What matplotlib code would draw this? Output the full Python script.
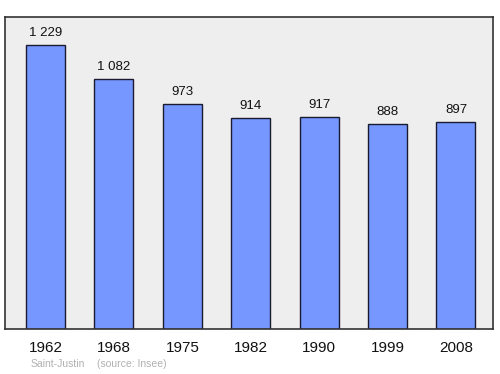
import matplotlib.pyplot as plt
import numpy as np

plt.rcParams["font.family"] = ["Liberation Sans", "DejaVu Sans"]

years = ["1962", "1968", "1975", "1982", "1990", "1999", "2008"]
population = [1229, 1082, 973, 914, 917, 888, 897]
value_labels = ["1 229", "1 082", "973", "914", "917", "888", "897"]

fig = plt.figure(figsize=(5.0, 3.74), dpi=100)
ax = fig.add_axes([5 / 500, 1 - 329 / 374, 488 / 500, 312 / 374])
ax.set_facecolor("#eeeeee")

x = np.arange(len(years))
ax.bar(x, population, width=0.57, color="#7597ff", edgecolor="#1a1a2e", linewidth=1.0, zorder=2)
for xi, val, lbl in zip(x, population, value_labels):
    ax.annotate(lbl, (xi, val), xytext=(0, 8.5), textcoords="offset points",
                ha="center", va="center", fontsize=9.5, color="#111111")

ax.set_xlim(-0.592, 6.541)
ax.set_ylim(0, 1350)
ax.set_yticks([])
ax.set_xticks(x, years)
ax.tick_params(axis="x", length=0, labelsize=11, pad=9, colors="#111111")
for spine in ax.spines.values():
    spine.set_color("#333333")
    spine.set_linewidth(1.2)

fig.text(31 / 500, 1 - 364 / 374, "Saint-Justin", fontsize=7.5, color="#b0b0b0", va="center")
fig.text(97 / 500, 1 - 364 / 374, "(source: Insee)", fontsize=7.5, color="#b0b0b0", va="center")

fig.savefig("out.png", dpi=100)
